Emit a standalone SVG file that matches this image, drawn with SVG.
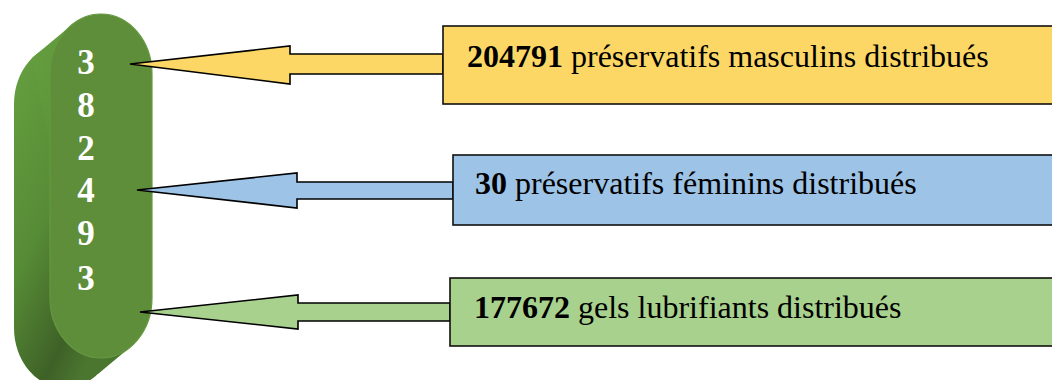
<svg xmlns="http://www.w3.org/2000/svg" width="1052" height="380" viewBox="0 0 1052 380">
<defs>
<linearGradient id="side" x1="0" y1="0" x2="0.6" y2="1">
<stop offset="0" stop-color="#66a040"/>
<stop offset="0.5" stop-color="#578c36"/>
<stop offset="0.85" stop-color="#3e6127"/>
<stop offset="1" stop-color="#4b7630"/>
</linearGradient>
<style>
.box{stroke:#111;stroke-width:1.6}
.arr{stroke:#000;stroke-width:1.6;stroke-linejoin:miter}
.t{font-family:"Liberation Serif","Times New Roman",serif;font-size:32px;fill:#000}
.b{font-weight:bold}
.d{font-family:"Liberation Serif","Times New Roman",serif;font-size:35px;font-weight:bold;fill:#fff;text-anchor:middle}
</style>
</defs>
<rect width="1052" height="380" fill="#fff"/>
<g id="total">
<g fill="url(#side)">
<rect x="14" y="44" width="102" height="344" rx="51" ry="60"/>
<polygon points="68,28 32,58 98,374 134,344"/>
</g>
<rect x="50" y="14" width="102" height="344" rx="51" ry="60" fill="#5e8e3a" stroke="#65993f" stroke-width="1.2"/>
<text class="d" x="86" y="74">3</text>
<text class="d" x="86" y="117">8</text>
<text class="d" x="86" y="160">2</text>
<text class="d" x="86" y="202">4</text>
<text class="d" x="86" y="245">9</text>
<text class="d" x="86" y="290">3</text>
</g>
<g id="connectors">
<polygon class="arr" fill="#fdd766" points="130,64 290,46 290,54 443,54 443,74 290,74 290,84"/>
<polygon class="arr" fill="#9dc3e6" points="137,190 297,173 297,182 453,182 453,199 297,199 297,208"/>
<polygon class="arr" fill="#a9d18e" points="140,312 298,295 298,303 450,303 450,321 298,321 298,329"/>
</g>
<g id="male">
<rect class="box" x="443" y="26" width="620" height="78" fill="#fdd766"/>
<text class="t" x="467" y="67"><tspan class="b">204791</tspan> préservatifs masculins distribués</text>
</g>
<g id="female">
<rect class="box" x="453" y="155" width="610" height="70" fill="#9dc3e6"/>
<text class="t" x="475" y="194"><tspan class="b">30</tspan> préservatifs féminins distribués</text>
</g>
<g id="gel">
<rect class="box" x="450" y="278" width="613" height="68" fill="#a9d18e"/>
<text class="t" x="474" y="318"><tspan class="b">177672</tspan> gels lubrifiants distribués</text>
</g>
</svg>
